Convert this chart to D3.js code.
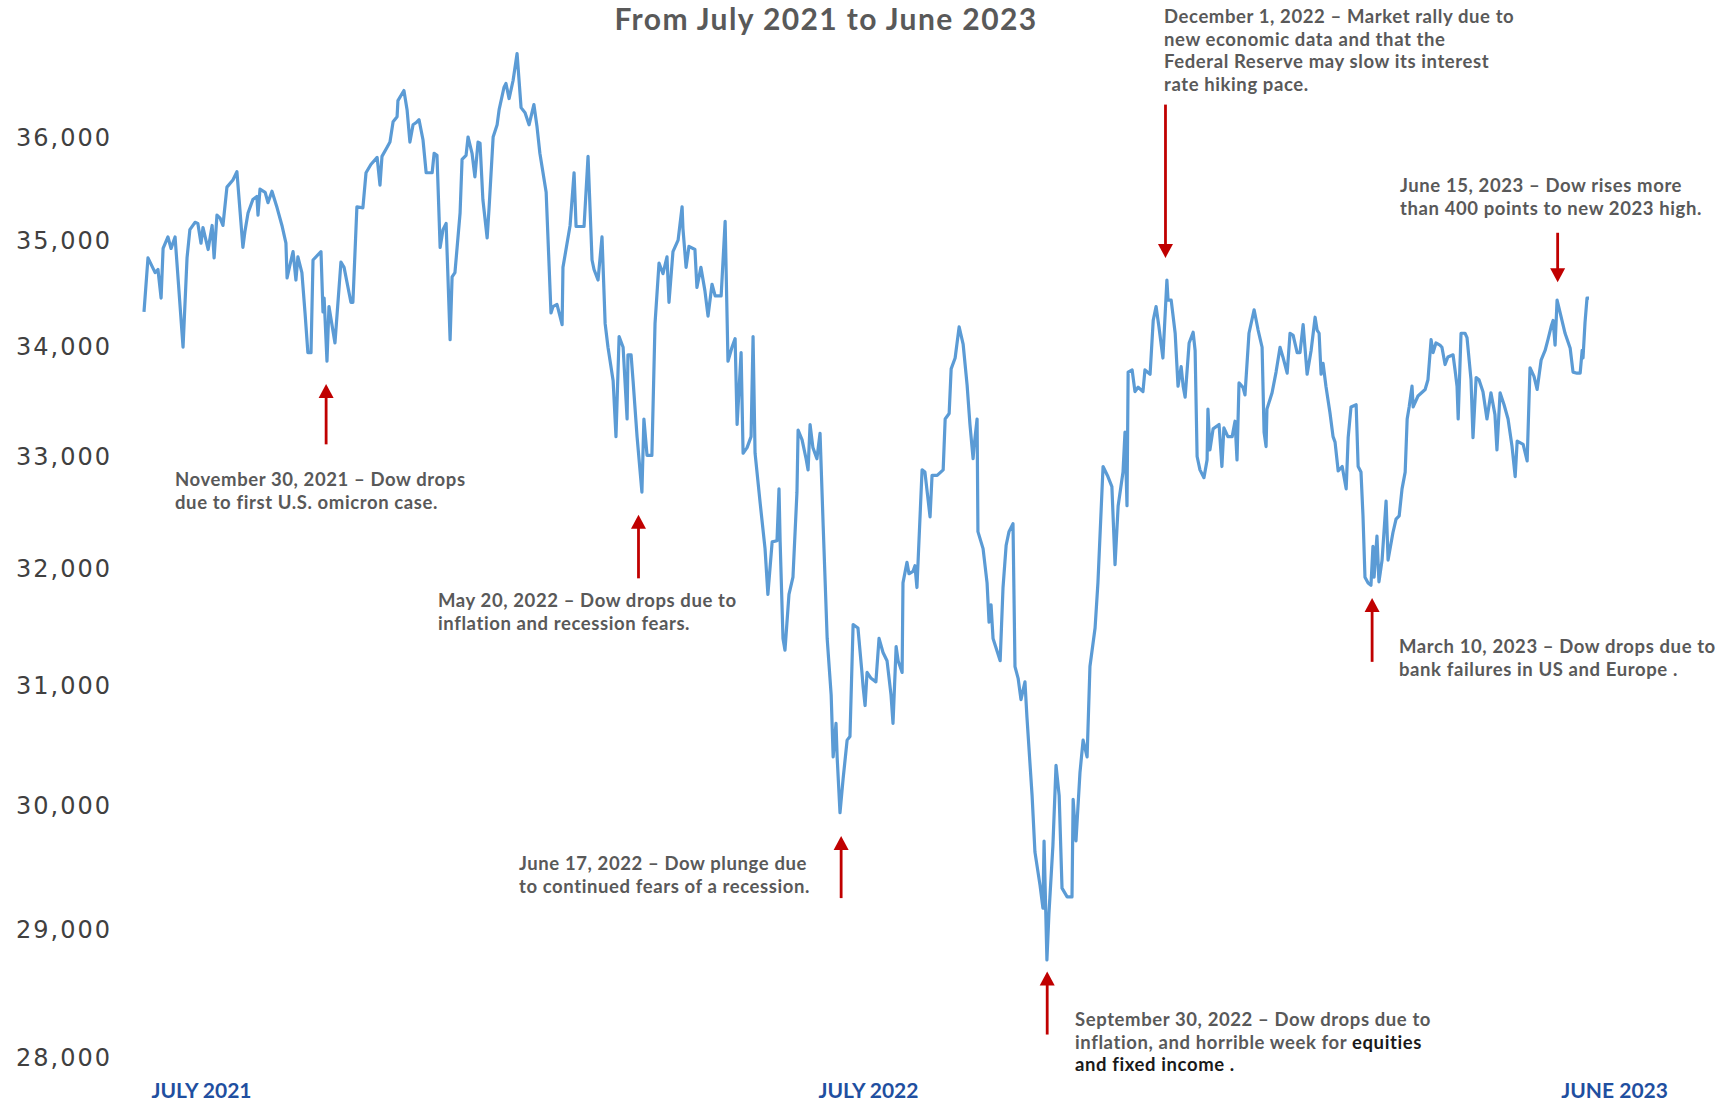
<!DOCTYPE html>
<html>
<head>
<meta charset="utf-8">
<script src="https://cdn.jsdelivr.net/npm/d3@7"></script>
<style>
  body { margin: 0; background: #fff; }
  svg { display: block; }
</style>
</head>
<body>
<div id="chart"></div>
<script>
// Dow Jones daily close (trading session number, close)
const sessions = [
  0, 1.4, 3.9, 4.9, 6.0, 6.7, 8.4, 9.5, 10.9, 13.7,
  15.1, 16.1, 17.9, 18.9, 20.0, 20.7, 22.5, 23.9, 24.6, 25.6,
  26.7, 27.7, 29.1, 31.2, 32.6, 34.7, 35.4, 36.5, 38.2, 39.6,
  40.0, 40.7, 42.5, 43.5, 44.9, 46.7, 48.4, 49.8, 50.2, 51.6,
  52.3, 53.3, 54.0, 55.4, 56.5, 57.5, 58.6, 59.3, 62.1, 62.8,
  63.2, 64.2, 64.9, 67.0, 69.1, 70.2, 72.6, 73.3, 74.7, 76.8,
  77.9, 79.6, 81.8, 82.8, 83.5, 85.3, 86.3, 87.4, 88.8, 89.1,
  91.2, 92.3, 93.3, 94.4, 95.4, 96.5, 97.9, 99.0, 101.1, 101.8,
  102.8, 103.9, 104.9, 106.0, 107.4, 108.1, 109.1, 110.9, 111.6, 113.0,
  113.7, 115.1, 116.1, 117.2, 117.9, 118.9, 120.4, 121.1, 122.5, 123.9,
  124.6, 126.3, 127.0, 128.1, 129.5, 130.9, 132.3, 133.7, 135.1, 136.8,
  137.9, 138.9, 141.1, 142.8, 143.5, 144.9, 146.7, 147.0, 149.5, 150.9,
  151.6, 154.4, 155.8, 157.2, 157.9, 159.3,
  160.7, 161.8, 162.8, 164.6, 165.6, 166.7, 168.1, 169.5, 169.8, 170.9,
  171.6, 173.0, 174.7, 175.4, 176.5, 178.2, 179.3, 180.7, 182.1, 183.5,
  184.2, 185.6, 187.4, 188.8, 189.1, 190.2, 191.2, 193.3, 194.0, 195.4,
  196.8, 197.9, 199.3, 200.4, 202.5, 203.9, 204.9, 206.3, 207.4, 208.1,
  209.5, 210.2, 211.6, 213.0, 213.7, 214.4, 216.2, 217.9, 218.9, 220.4,
  222.1, 222.8, 223.2, 224.2, 224.9, 226.3, 227.7, 229.1, 229.5, 230.9,
  232.3, 233.0, 233.7, 234.7, 236.1, 237.2, 238.3, 239.7, 241.1, 241.8,
  242.8, 243.2, 244.2, 245.3, 246.7, 247.7, 248.8, 250.5, 251.9, 252.3,
  253.0, 253.7, 255.1, 256.8, 257.9, 259.3, 260.7, 262.1, 262.8, 263.9,
  264.6, 266.0, 266.3, 267.7, 268.4, 269.8, 270.5, 271.2, 273.0, 274.0,
  275.8, 276.5, 278.3, 280.4, 281.1, 282.5, 283.2, 284.6, 286.0, 287.4,
  288.8, 289.8, 290.9, 291.2, 292.3, 292.6, 294.4, 295.8, 296.5, 297.2,
  297.9, 300.4, 301.4, 302.5, 303.5, 304.9, 305.6, 306.7, 307.7, 309.1,
  309.8, 311.6, 312.6, 314.4, 315.4, 315.8, 316.8, 317.5, 318.9, 320.0,
  321.1, 322.1, 323.9, 325.6, 326.0, 327.0, 328.4, 329.5, 330.9, 331.9,
  333.7, 334.7,
  336.5, 338.2, 339.6, 340.7, 341.8, 343.5, 344.2, 344.9, 345.3, 346.7,
  347.7, 348.8, 350.5, 351.2, 353.0, 354.1, 355.1, 356.1, 357.5, 358.9,
  359.3, 360.4, 361.8, 362.8, 363.9, 364.6, 365.3, 366.7, 368.1, 368.8,
  369.5, 370.5, 371.9, 373.0, 373.3, 374.0, 375.1, 377.2, 378.2, 378.9,
  380.3, 381.8, 382.8, 383.5, 384.2, 385.6, 386.3, 387.7, 389.5, 390.9,
  392.3, 393.0, 393.7, 394.0, 395.8, 397.2, 398.6, 399.6, 401.1, 402.1,
  403.2, 404.6, 405.6, 406.7, 408.1, 409.5, 410.9, 411.6, 412.3, 413.0,
  413.7, 414.7, 416.1, 417.2, 417.9, 419.0, 420.4, 421.8, 422.5, 423.5,
  425.3, 426.0, 427.0, 427.7, 428.4, 429.5, 430.5, 431.2, 431.6, 432.6,
  433.3, 434.4, 435.8, 436.5, 438.2, 439.3, 440.4, 441.4, 442.5, 443.2,
  443.9, 444.9, 445.3, 447.0, 449.5, 450.5, 451.6, 452.3, 453.3, 454.7,
  455.4, 456.5, 457.5, 459.3, 460.0, 460.7, 461.1, 462.1, 463.5, 464.2,
  465.6, 466.3, 467.4, 468.4, 469.8, 471.2, 472.6, 474.0, 474.7, 475.8,
  477.2, 478.6, 480.0, 481.1, 481.8, 483.9, 485.3, 486.3, 487.7, 488.8,
  490.2, 491.6, 492.6, 493.7, 494.4, 495.1, 495.8, 496.8, 498.6, 500.4,
  501.4, 502.8, 503.9, 504.6, 504.9, 505.6, 506.3, 507.0
];
const closes = [
  34330, 34840, 34700, 34730, 34460, 34930, 35040, 34930, 35040, 34000,
  34840, 35110, 35180, 35170, 34980, 35130, 34920, 35150, 34840, 35250,
  35220, 35150, 35520, 35590, 35670, 34940, 35090, 35270, 35400, 35430,
  35250, 35500, 35470, 35370, 35480, 35320, 35150, 34980, 34650, 34820,
  34900, 34630, 34850, 34700, 34320, 33950, 33950, 34820, 34900, 34330,
  34460, 33870, 34380, 34040, 34800, 34750, 34420, 34420, 35330, 35320,
  35660, 35740, 35810, 35540, 35820, 35910, 35960, 36160, 36210, 36370,
  36470, 36280, 35960, 36130, 36150, 36180, 35980, 35660, 35660, 35850,
  35830, 34940, 35110, 35170, 34070, 34660, 34700, 35270, 35790, 35830,
  36010, 35850, 35620, 35960, 35950, 35400, 35030, 35330, 36010, 36130,
  36280, 36500, 36540, 36390, 36570, 36840, 36300, 36250, 36130, 36330,
  36110, 35850, 35470, 34320, 34380, 34400, 34210, 34750, 35150, 35660,
  35140, 35140, 35820, 34820, 34730, 34630,
  35040, 34220, 34000, 33690, 33180, 34100, 34000, 33340, 33930, 33930,
  33690, 33180, 32680, 33340, 33010, 33010, 34220, 34790, 34690, 34850,
  34420, 34900, 35010, 35330, 35120, 34750, 34950, 34920, 34560, 34750,
  34530, 34290, 34590, 34480, 34480, 35190, 33870, 34000, 34080, 33290,
  33950, 33030, 33080, 33180, 34100, 33030, 32580, 32180, 31780, 32240,
  32250, 32710, 32240, 31400, 31300, 31780, 31930, 32680, 33240, 33150,
  32980, 32880, 33290, 33080, 32980, 33210, 32380, 31400, 30920, 30400,
  30680, 30400, 29940, 30220, 30540, 30570, 31520, 31490, 31110, 30990,
  30830, 31110, 31060, 31030, 31400, 31280, 31210, 30920, 30680, 31330,
  31210, 31110, 31880, 32060, 31960, 31980, 32030, 31840, 32880, 32860,
  32460, 32830, 32830, 32880, 33340, 33390, 33800, 33900, 34190, 34030,
  33650, 33290, 32980, 33080, 33340, 32330, 32180, 31880, 31540, 31690,
  31400, 31210, 31840, 32210, 32330, 32400, 31160, 31060, 30880, 31030,
  30730, 30080, 29620, 29350, 29170, 29710, 28760, 29120, 29670, 30330,
  30080, 29330, 29260, 29260, 30050, 29710, 30270, 30540, 30400, 31160,
  31490, 31880,
  32910, 32820, 32730, 32040, 32560, 32860, 33220, 32560, 33770, 33790,
  33590, 33630, 33590, 33790, 33750, 34250, 34380, 34190, 33900, 34630,
  34440, 34440, 34130, 33640, 33820, 33640, 33540, 34040, 34140, 33970,
  33000, 32880, 32810, 32970, 33430, 33060, 33250, 33290, 32910, 33260,
  33180, 33180, 33320, 32970, 33670, 33630, 33560, 34130, 34350, 34160,
  34000, 33220, 33090, 33430, 33580, 33770, 34000, 33910, 33760, 34130,
  34110, 33950, 33950, 34210, 33750, 33970, 34280, 34160, 34130, 33750,
  33850, 33640, 33400, 33180, 33130, 32870, 32910, 32710, 33170, 33450,
  33470, 32910, 32860, 32470, 31930, 31880, 31860, 32200, 31930, 32290,
  31890, 32080, 32600, 32080, 32320, 32440, 32470, 32710, 32860, 33340,
  33450, 33640, 33450, 33550, 33610, 33700, 34070, 33950, 34040, 34020,
  34000, 33840, 33910, 33930, 33790, 33640, 33340, 34130, 34130, 34090,
  33700, 33170, 33720, 33700, 33590, 33340, 33580, 33380, 33060, 33580,
  33470, 33340, 33090, 32820, 33140, 33110, 32960, 33810, 33730, 33610,
  33880, 33970, 34070, 34190, 34250, 34020, 34440, 34330, 34130, 33990,
  33770, 33760, 33760, 33970, 33900, 34230, 34460, 34460
];

const yTicks = [28000, 29000, 30000, 31000, 32000, 33000, 34000, 35000, 36000];
const xTickSessions = [20, 254, 515.8];
const xTickLabels = ["JULY 2021", "JULY 2022", "JUNE 2023"];
const title = "From July 2021 to June 2023";

// notes: arrow at a session, from tail value to tip value; "*" = dark text
const notes = [
  { session: 63.9, tail: 33110, tip: 33660,
    lines: [["November 30, 2021 – Dow drops"], ["due to first U.S. omicron case."]] },
  { session: 173.5, tail: 31920, tip: 32480,
    lines: [["May 20, 2022 – Dow drops due to"], ["inflation and recession fears."]] },
  { session: 244.6, tail: 29250, tip: 29750,
    lines: [["June 17, 2022 – Dow plunge due"], ["to continued fears of a recession."]] },
  { session: 316.9, tail: 28180, tip: 28670,
    lines: [["September 30, 2022 – Dow drops due to"], ["inflation, and horrible week for ", "*equities"], ["*and fixed income ."]] },
  { session: 358.4, tail: 36330, tip: 34840,
    lines: [["December 1, 2022 – Market rally due to"], ["new economic data and that the"], ["Federal Reserve may slow its interest"], ["rate hiking pace."]] },
  { session: 496.0, tail: 35080, tip: 34610,
    lines: [["June 15, 2023 – Dow rises more"], ["than 400 points to new 2023 high."]] },
  { session: 430.9, tail: 31200, tip: 31750,
    lines: [["March 10, 2023 – Dow drops due to"], ["bank failures in US and Europe ."]] }
];
// where each note's first text line sits
const noteLayout = [
  { x: 175, y: 486 }, { x: 438, y: 607 }, { x: 519, y: 870 }, { x: 1075, y: 1026 },
  { x: 1164, y: 23 }, { x: 1400, y: 192 }, { x: 1399, y: 653 }
];

var width = 1732, height = 1101;
var svg = d3.select("#chart").append("svg")
    .attr("width", width)
    .attr("height", height);

svg.append("rect").attr("width", width).attr("height", height).attr("fill", "#fff");

var x = d3.scaleLinear().domain([0, 507]).range([144, 1589]);
var y = d3.scaleLog().domain([28000, 36000]).range([1058, 138]);

// y axis
var yAxis = svg.append("g")
    .attr("transform", "translate(112,0)")
    .call(d3.axisLeft(y).tickValues(yTicks).tickFormat(d3.format(",")).tickSize(0).tickPadding(0));
yAxis.select(".domain").remove();
yAxis.selectAll("text")
    .attr("font-family", "'DejaVu Sans', Verdana, sans-serif")
    .attr("font-size", 24)
    .attr("letter-spacing", "2px")
    .attr("fill", "#404040");

// x axis labels
var xAxis = svg.append("g")
    .attr("transform", "translate(0,1098)")
    .call(d3.axisBottom(x).tickValues(xTickSessions).tickFormat((d, i) => xTickLabels[i]).tickSize(0));
xAxis.select(".domain").remove();
xAxis.selectAll("text")
    .attr("y", 0).attr("dy", 0)
    .attr("font-family", "Lato, 'Noto Sans', sans-serif")
    .attr("font-weight", 700)
    .attr("font-size", 21)
    .attr("fill", "#1f4fa0");

// title
svg.append("text")
    .attr("x", 826).attr("y", 30)
    .attr("text-anchor", "middle")
    .attr("font-family", "Lato, 'Noto Sans', sans-serif")
    .attr("font-weight", 700)
    .attr("font-size", 30)
    .attr("letter-spacing", "1.4px")
    .attr("fill", "#595959")
    .text(title);

// the line
const dow = sessions.map((s, i) => ({ s: s, v: closes[i] }));
var line = d3.line().x(d => x(d.s)).y(d => y(d.v));
svg.append("path")
    .datum(dow)
    .attr("d", line)
    .attr("fill", "none")
    .attr("stroke", "#5b9bd5")
    .attr("stroke-width", 3.2)
    .attr("stroke-linejoin", "round");

// arrows + notes
var arrows = svg.append("g");
notes.forEach(function (n, k) {
  var ax = x(n.session), yTip = y(n.tip), yTail = y(n.tail);
  var dir = yTail > yTip ? 1 : -1;
  arrows.append("line")
      .attr("x1", ax).attr("x2", ax)
      .attr("y1", yTip + dir * 12).attr("y2", yTail)
      .attr("stroke", "#c00000").attr("stroke-width", 2.8);
  arrows.append("path")
      .attr("d", d3.line()([[ax, yTip], [ax - 7.5, yTip + dir * 14], [ax + 7.5, yTip + dir * 14]]) + "Z")
      .attr("fill", "#c00000");

  var lay = noteLayout[k];
  var t = svg.append("text")
      .attr("font-family", "Lato, 'Noto Sans', sans-serif")
      .attr("font-weight", 700)
      .attr("font-size", 18.5)
      .attr("letter-spacing", "0.6px")
      .attr("fill", "#595959");
  n.lines.forEach(function (segs, li) {
    segs.forEach(function (s, si) {
      var dark = s[0] === "*";
      var ts = t.append("tspan").text(dark ? s.slice(1) : s);
      if (si === 0) ts.attr("x", lay.x).attr("y", lay.y + li * 22.5);
      if (dark) ts.attr("fill", "#1a1a1a");
    });
  });
});
</script>
</body>
</html>
